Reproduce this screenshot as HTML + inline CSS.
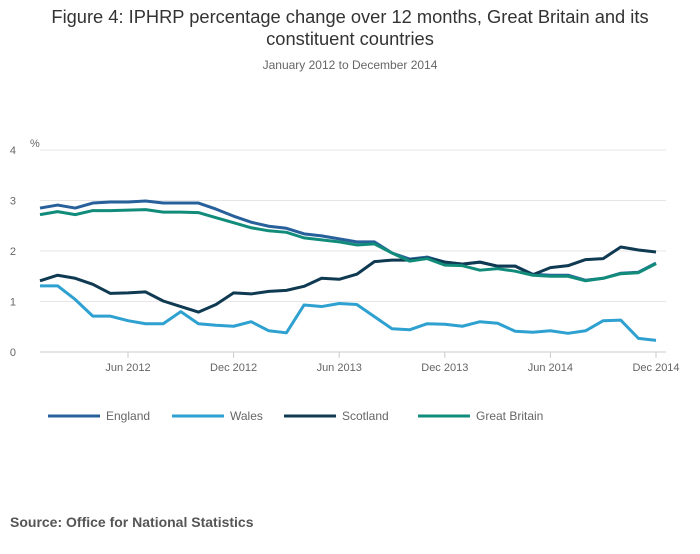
<!DOCTYPE html>
<html><head><meta charset="utf-8">
<style>
body{margin:0;background:#fff;font-family:"Liberation Sans",sans-serif;}
svg text{font-family:"Liberation Sans",sans-serif;}
</style></head>
<body>
<svg id="c" width="700" height="549">
<text x="350" y="23" text-anchor="middle" font-size="18.3" fill="#333">Figure 4: IPHRP percentage change over 12 months, Great Britain and its</text>
<text x="350" y="45" text-anchor="middle" font-size="18.3" fill="#333">constituent countries</text>
<text x="350" y="69" text-anchor="middle" font-size="12" fill="#666">January 2012 to December 2014</text>
<text x="30" y="147" font-size="11" fill="#666">%</text>
<g id="grid"></g><g id="series"></g>
<g id="legend"></g>
<text x="10" y="527" font-size="14" font-weight="bold" fill="#555">Source: Office for National Statistics</text>
</svg>
<script>
const months = 36;
const yTicks = [0,1,2,3,4];
const xTickIdx = [5,11,17,23,29,35];
const xTickLabels = ["Jun 2012","Dec 2012","Jun 2013","Dec 2013","Jun 2014","Dec 2014"];
const seriesNames = ["England","Wales","Scotland","Great Britain"];
const seriesColors = ["#27609a","#2ea1d0","#0f3a52","#118c7b"];
const england = [2.85,2.91,2.85,2.95,2.97,2.97,2.99,2.95,2.95,2.95,2.83,2.69,2.57,2.49,2.45,2.34,2.30,2.24,2.18,2.18,1.96,1.84,1.88,1.78,1.74,1.78,1.70,1.70,1.54,1.52,1.52,1.42,1.46,1.56,1.58,1.76];
const wales = [1.31,1.31,1.04,0.71,0.71,0.62,0.56,0.56,0.80,0.56,0.53,0.51,0.60,0.42,0.38,0.93,0.90,0.96,0.94,0.70,0.46,0.44,0.56,0.55,0.51,0.60,0.57,0.41,0.39,0.42,0.37,0.42,0.62,0.63,0.27,0.23];
const scotland = [1.41,1.52,1.46,1.34,1.16,1.17,1.19,1.01,0.90,0.79,0.94,1.17,1.15,1.20,1.22,1.30,1.46,1.44,1.54,1.79,1.82,1.82,1.86,1.78,1.74,1.78,1.70,1.70,1.53,1.67,1.71,1.83,1.85,2.08,2.02,1.98];
const gb = [2.72,2.78,2.72,2.80,2.80,2.81,2.82,2.77,2.77,2.76,2.66,2.56,2.46,2.40,2.37,2.26,2.22,2.18,2.12,2.14,1.96,1.80,1.85,1.72,1.71,1.62,1.65,1.60,1.52,1.50,1.50,1.41,1.46,1.55,1.57,1.75];
const allSeries = [england,wales,scotland,gb];
const NS="http://www.w3.org/2000/svg";
const X0=40,X1=656,Y0=352,Y4=150;
const xs=i=>X0+(X1-X0)*i/(months-1);
const ys=v=>Y0-(Y0-Y4)*v/4;
const grid=document.getElementById('grid');
function mk(t,a,p){const e=document.createElementNS(NS,t);for(const k in a)e.setAttribute(k,a[k]);p.appendChild(e);return e;}
yTicks.forEach(v=>{
 const l=mk('line',{x1:40,x2:666,y1:ys(v),y2:ys(v),stroke:v===0?'#ccc':'#e6e6e6','stroke-width':1},grid);
 
 
 const t=mk('text',{x:16,y:ys(v)+4,'font-size':11,fill:'#666','text-anchor':'end'},grid);
 
 
 t.textContent=v;
});
xTickIdx.forEach((idx,k)=>{
 const l=mk('line',{x1:xs(idx),x2:xs(idx),y1:352,y2:358,stroke:'#ccc'},grid);
 
 
 const t=mk('text',{x:xs(idx),y:371,'font-size':11,fill:'#666','text-anchor':'middle'},grid);
 
 
 t.textContent=xTickLabels[k];
});
const sg=document.getElementById('series');
allSeries.forEach((d,s)=>{
 const p=mk('polyline',{points:d.map((v,i)=>xs(i)+','+ys(v)).join(' '),fill:'none',stroke:seriesColors[s],'stroke-width':3,'stroke-linejoin':'round'},sg);
 
 
});
const lg=document.getElementById('legend');
const lx=[48,172,284,418];
seriesNames.forEach((n,s)=>{
 const l=mk('line',{x1:lx[s],x2:lx[s]+52,y1:416,y2:416,stroke:seriesColors[s],'stroke-width':3},lg);
 
 
 const t=mk('text',{x:lx[s]+58,y:420,'font-size':12,fill:'#666'},lg);
 
 
 t.textContent=n;
});
</script>
</body></html>
